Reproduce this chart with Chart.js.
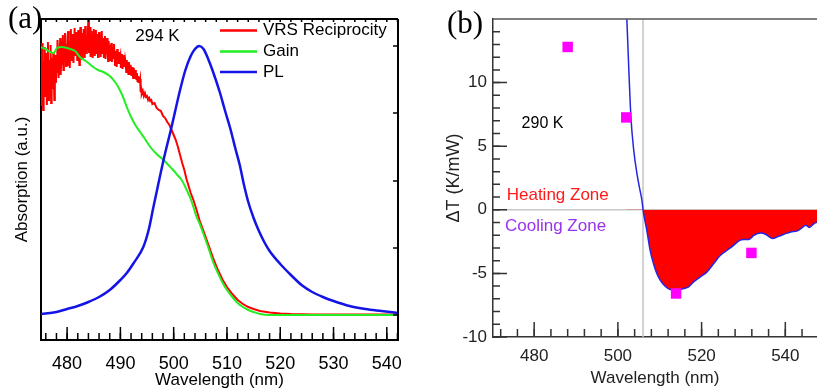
<!DOCTYPE html>
<html><head><meta charset="utf-8">
<script src="https://cdn.jsdelivr.net/npm/chart.js@4/dist/chart.umd.min.js"></script>
<style>
html,body{margin:0;padding:0;background:#fff;}
#pa{position:absolute;left:0;top:0;width:410px;height:389px;}
#pb{position:absolute;left:410px;top:0;width:407px;height:389px;}
</style></head><body>
<div id="pa"><canvas id="ca" width="410" height="389"></canvas></div>
<div id="pb"><canvas id="cb" width="407" height="389"></canvas></div>
<script>
// ---------- Panel (a) data ----------
const xTicksA = [480, 490, 500, 510, 520, 530, 540];
const yTicksA = [0, 67, 134, 202, 269];

const vrsWavelength = [
 475.0,475.1,475.2,475.3,475.4,475.5,475.6,475.7,475.8,475.9,
 476.0,476.1,476.2,476.3,476.4,476.5,476.6,476.7,476.8,476.9,
 477.0,477.1,477.2,477.3,477.4,477.5,477.6,477.7,477.8,477.9,
 478.0,478.1,478.2,478.3,478.4,478.5,478.6,478.7,478.8,478.9,
 479.0,479.1,479.2,479.3,479.4,479.5,479.6,479.7,479.8,479.9,
 480.0,480.1,480.2,480.3,480.4,480.5,480.6,480.7,480.8,480.9,
 481.0,481.1,481.2,481.3,481.4,481.5,481.6,481.7,481.8,481.9,
 482.0,482.1,482.2,482.3,482.4,482.5,482.6,482.7,482.8,482.9,
 483.0,483.1,483.2,483.3,483.4,483.5,483.6,483.7,483.8,483.9,
 484.0,484.1,484.2,484.3,484.4,484.5,484.6,484.7,484.8,484.9,
 485.0,485.1,485.2,485.3,485.4,485.5,485.6,485.7,485.8,485.9,
 486.0,486.1,486.2,486.3,486.4,486.5,486.6,486.7,486.8,486.9,
 487.0,487.1,487.2,487.3,487.4,487.5,487.6,487.7,487.8,487.9,
 488.0,488.1,488.2,488.3,488.4,488.5,488.6,488.7,488.8,488.9,
 489.0,489.1,489.2,489.3,489.4,489.5,489.6,489.7,489.8,489.9,
 490.0,490.1,490.2,490.3,490.4,490.5,490.6,490.7,490.8,490.9,
 491.0,491.1,491.2,491.3,491.4,491.5,491.6,491.7,491.8,491.9,
 492.0,492.1,492.2,492.3,492.4,492.5,492.6,492.7,492.8,492.9,
 493.0,493.1,493.2,493.3,493.4,493.5,493.6,493.7,493.8,493.9,
 494.0,494.2,494.4,494.6,494.8,495.0,495.2,495.4,495.6,495.8,
 496.0,496.4,496.8,497.2,497.6,498.0,498.4,498.8,499.2,499.6,
 500.0,500.4,500.8,501.2,501.6,502.0,502.4,502.8,503.2,503.7,
 504.3,504.9,505.6,506.4,507.4,508.3,509.2,510.0,511.0,512.0,
 513.0,514.0,515.0,516.2,518.0,520.0,522.0,526.0,530.0,536.0,
 542.1];
const vrsReciprocity = [
 262,210,247,272,230,205,254,243,268,219,
 231,262,210,248,273,224,214,255,238,270,
 212,246,257,226,262,237,215,251,260,232,
 257,242,275,262,237,266,251,277,240,255,
 274,251,280,245,266,258,282,268,249,271,
 250,279,284,260,274,247,269,286,255,266,
 281,262,252,276,287,268,259,283,274,255,
 270,285,261,250,278,288,266,273,256,282,
 263,286,276,257,289,270,262,280,266,285,
 296,262,279,288,258,273,284,266,257,280,
 286,268,259,277,285,262,274,281,258,270,
 283,264,275,258,279,284,262,270,277,257,
 272,279,256,268,261,277,265,254,274,263,
 270,255,265,272,253,262,268,257,271,259,
 250,264,260,248,266,255,261,251,263,256,
 259,247,256,261,246,254,250,260,248,255,
 251,243,255,246,249,241,253,247,240,250,
 246,239,248,242,237,247,243,236,245,240,
 236,242,234,239,232,238,233,236,223,226,
 221,224,219,222,218,219,215,217,214,215,
 211,212,207,205,204,199,197,193,190,185,
 180,175,168,160,152,145,136,129,122,115,
 105,94,84,72,57,45,35,28,21,15,
 11,8,6,4,2.5,1.5,1,0.5,0.5,0.5,
 0.5];

const gainWavelength = [
 474.9,476.0,476.8,477.5,478.1,479.0,480.0,480.6,481.5,482.4,
 483.5,484.9,485.8,486.8,488.0,489.0,489.8,490.5,491.2,492.0,
 492.8,493.7,494.5,495.6,496.8,498.1,499.0,499.9,500.7,501.5,
 502.1,502.7,503.2,503.7,504.3,504.9,505.6,506.4,507.4,508.3,
 509.2,510.0,511.0,512.0,513.0,514.0,515.0,516.2,518.0,525.0,
 535.0,542.1];
const gainValue = [
 268,266,263,262,267,268,267,266,264,258,
 254,248,245,243,239,233,226,218,208,198,
 190,183,177,168,161,155,150,145,140,135,
 129,122,116,108,98,91,81,69,53,42,
 32,25,18,12,8,5,3,1,0,0,
 0,0];

const plWavelength = [
 475.0,478.0,480.0,482.0,484.0,486.0,488.0,490.0,491.2,492.5,
 494.3,495.3,496.2,497.0,498.1,499.6,501.2,502.2,503.2,504.0,
 504.8,505.6,506.4,507.4,508.7,509.6,510.6,511.6,512.4,513.2,
 514.0,515.0,516.0,517.0,518.0,520.0,522.0,524.0,526.0,528.0,
 530.0,533.0,536.0,539.0,542.1];
const plValue = [
 1,3,6,9,13,18,25,35,42,52,
 68,85,108,128,155,188,225,245,259,266,
 269,266,257,243,222,205,187,166,150,130,
 113,97,84,73,64,51,40,30,23,18,
 14,9,6,4,2];

// ---------- Panel (b) data ----------
const xTicksB = [480, 500, 520, 540];
const yTicksB = [-10, -5, 0, 5, 10];
const dtWavelength = [
 502.0,502.15,502.58,503.11,503.78,504.61,505.3,505.74,506.0,506.2,
 506.9,507.7,508.5,509.3,510.1,511.3,512.5,514.1,515.7,516.9,
 518.1,519.7,521.3,522.9,524.5,526.1,527.7,528.9,530.1,531.3,
 532.5,534.1,535.3,536.9,538.1,539.7,541.3,542.9,544.1,544.9,
 545.7,546.9,547.8];
const dtValue = [
 16.2,14.91,11.29,7.30,4.69,2.72,1.5,0.75,0.05,-0.4,
 -1.60,-3.18,-4.22,-5.01,-5.53,-6.01,-6.27,-6.32,-6.19,-6.06,
 -5.67,-5.28,-4.88,-4.22,-3.57,-3.18,-2.78,-2.44,-2.33,-2.33,
 -2.00,-1.82,-1.92,-2.26,-2.13,-1.92,-1.74,-1.66,-1.39,-1.21,
 -1.39,-1.08,-0.95];
const measWavelength = [488.0, 502.0, 513.9, 531.9];
const measValue = [12.8, 7.26, -6.58, -3.39];
const zeroCrossing = 506.0;

// ---------- helpers ----------
const SANS = '"Liberation Sans", Arial, Helvetica, sans-serif';
const SERIF = '"Liberation Serif", "Times New Roman", serif';
const toXY = (xs, ys) => xs.map((x, i) => ({x: x, y: ys[i]}));
const range = (a, b, s) => { const r = []; for (let v = a; v <= b + 1e-9; v += s) r.push(+v.toFixed(6)); return r; };
const noPad = s => { s.paddingLeft = 0; s.paddingRight = 0; s.paddingTop = 0; s.paddingBottom = 0; };

const decor = {
  id: 'decor',
  beforeDatasetsDraw(chart, args, o) {
    const ctx = chart.ctx, ca = chart.chartArea;
    (o.refLines || []).forEach(r => {
      ctx.save(); ctx.strokeStyle = r.color; ctx.lineWidth = r.width; ctx.beginPath();
      if (r.axis === 'x') { const p = chart.scales.x.getPixelForValue(r.value); ctx.moveTo(p, ca.top); ctx.lineTo(p, ca.bottom); }
      else { const p = chart.scales.y.getPixelForValue(r.value); ctx.moveTo(ca.left, p); ctx.lineTo(ca.right, p); }
      ctx.stroke(); ctx.restore();
    });
  },
  afterDraw(chart, args, o) {
    const ctx = chart.ctx, ca = chart.chartArea;
    ctx.save();
    (o.frame || []).forEach(f => {
      ctx.strokeStyle = f.color; ctx.lineWidth = f.width; ctx.beginPath();
      if (f.side === 'top') { ctx.moveTo(ca.left, ca.top); ctx.lineTo(ca.right, ca.top); }
      if (f.side === 'right') { ctx.moveTo(ca.right, ca.top); ctx.lineTo(ca.right, ca.bottom); }
      ctx.stroke();
    });
    (o.ticks || []).forEach(t => {
      const sc = chart.scales[t.axis];
      ctx.strokeStyle = t.color; ctx.lineWidth = t.width; ctx.beginPath();
      t.values.forEach(v => {
        const p = sc.getPixelForValue(v);
        if (t.side === 'bottom') { ctx.moveTo(p, ca.bottom); ctx.lineTo(p, ca.bottom - t.len); }
        else if (t.side === 'top') { ctx.moveTo(p, ca.top); ctx.lineTo(p, ca.top + t.len); }
        else if (t.side === 'left') { ctx.moveTo(ca.left, p); ctx.lineTo(ca.left + t.len, p); }
        else { ctx.moveTo(ca.right, p); ctx.lineTo(ca.right - t.len, p); }
      });
      ctx.stroke();
    });
    if (o.legend) {
      const L = o.legend;
      chart.data.datasets.forEach((ds, i) => {
        const y = L.y[i];
        ctx.strokeStyle = ds.borderColor; ctx.lineWidth = L.lineWidth;
        ctx.beginPath(); ctx.moveTo(L.x0, y); ctx.lineTo(L.x1, y); ctx.stroke();
        ctx.fillStyle = '#000'; ctx.font = L.font; ctx.textAlign = 'left'; ctx.textBaseline = 'middle';
        ctx.fillText(ds.label, L.tx, y);
      });
    }
    (o.texts || []).forEach(t => {
      ctx.fillStyle = t.color || '#000'; ctx.font = t.font;
      ctx.textAlign = t.align || 'left'; ctx.textBaseline = 'middle';
      ctx.fillText(t.text, t.x, t.y);
    });
    ctx.restore();
  }
};

// ---------- Chart (a) ----------
new Chart(document.getElementById('ca'), {
  type: 'line',
  data: { datasets: [
    {label: 'VRS Reciprocity', data: toXY(vrsWavelength, vrsReciprocity), borderColor: '#ff0000', borderWidth: 2, pointRadius: 0, tension: 0, order: 3, clip: 0},
    {label: 'Gain', data: toXY(gainWavelength, gainValue), borderColor: '#22ee22', borderWidth: 2, pointRadius: 0, cubicInterpolationMode: 'monotone', order: 2, clip: 0},
    {label: 'PL', data: toXY(plWavelength, plValue), borderColor: '#1414e6', borderWidth: 2.5, pointRadius: 0, cubicInterpolationMode: 'monotone', order: 1, clip: 0}
  ]},
  options: {
    responsive: false, animation: false, devicePixelRatio: 1,
    layout: {autoPadding: false, padding: {left: 0, right: 12, top: 19, bottom: 0}},
    plugins: {
      legend: {display: false}, tooltip: {enabled: false},
      decor: {
        frame: [{side: 'top', color: '#000', width: 2}, {side: 'right', color: '#000', width: 2}],
        ticks: [
          {axis: 'x', side: 'bottom', values: range(476, 542, 2), len: 7, color: '#000', width: 1.5},
          {axis: 'x', side: 'bottom', values: xTicksA, len: 13, color: '#000', width: 1.5},
          {axis: 'x', side: 'top', values: range(476, 542, 2), len: 3, color: '#000', width: 1.5},
          {axis: 'y', side: 'right', values: yTicksA, len: 5, color: '#000', width: 1.5}
        ],
        legend: {x0: 220, x1: 257, tx: 263, y: [30.5, 51.5, 72], lineWidth: 2.5, font: '17px ' + SANS},
        texts: [
          {text: '(a)', x: 8, y: 20, font: '31px ' + SERIF},
          {text: '294 K', x: 157.5, y: 36, align: 'center', font: '17px ' + SANS}
        ]
      }
    },
    scales: {
      x: {type: 'linear', position: 'bottom', min: 475.1, max: 542.1,
        afterBuildTicks: s => { s.ticks = xTicksA.map(v => ({value: v})); },
        afterFit: s => { s.height = 49; noPad(s); },
        grid: {display: false, drawTicks: false},
        border: {display: true, color: '#000', width: 2},
        ticks: {color: '#000', font: {family: SANS, size: 18}, padding: 13, maxRotation: 0, autoSkip: false, callback: v => String(v)},
        title: {display: true, text: 'Wavelength (nm)', color: '#000', font: {family: SANS, size: 17, lineHeight: 1}, padding: {top: 0, bottom: 0.5}}},
      y: {type: 'linear', position: 'left', min: -25, max: 296,
        afterFit: s => { s.width = 41; noPad(s); },
        grid: {display: false, drawTicks: false},
        border: {display: true, color: '#000', width: 2},
        ticks: {display: false},
        title: {display: true, text: 'Absorption (a.u.)', color: '#000', font: {family: SANS, size: 17, lineHeight: 1}, padding: {top: 14, bottom: 0}}}
    }
  },
  plugins: [decor]
});

// ---------- Chart (b) ----------
new Chart(document.getElementById('cb'), {
  type: 'line',
  data: { datasets: [
    {type: 'line', label: 'ΔT', data: toXY(dtWavelength, dtValue), borderColor: '#2626e0', borderWidth: 1.5, pointRadius: 0,
     cubicInterpolationMode: 'monotone', fill: {target: {value: 0}, above: 'rgba(0,0,0,0)', below: '#ff0000'}, clip: 0, order: 2},
    {type: 'scatter', label: 'Measured', data: toXY(measWavelength, measValue), pointStyle: 'rect', pointRadius: 7.4,
     backgroundColor: '#ff00ff', borderColor: '#ff00ff', borderWidth: 0, order: 1}
  ]},
  options: {
    responsive: false, animation: false, devicePixelRatio: 1,
    layout: {autoPadding: false, padding: {left: 0, right: 0, top: 19, bottom: 0}},
    plugins: {
      legend: {display: false}, tooltip: {enabled: false},
      decor: {
        refLines: [{axis: 'x', value: zeroCrossing, color: '#c4c4c4', width: 1.5}, {axis: 'y', value: 0, color: '#c8c8c8', width: 1.5}],
        frame: [{side: 'top', color: '#555', width: 1.5}],
        ticks: [
          {axis: 'y', side: 'left', values: range(-10, 14, 1), len: 7, color: '#333', width: 1.5},
          {axis: 'y', side: 'left', values: yTicksB, len: 14, color: '#333', width: 1.5},
          {axis: 'x', side: 'bottom', values: range(472, 544, 4), len: 8, color: '#333', width: 1.5},
          {axis: 'x', side: 'bottom', values: xTicksB, len: 15, color: '#333', width: 1.5}
        ],
        texts: [
          {text: '(b)', x: 37, y: 25, font: '31px ' + SERIF},
          {text: '290 K', x: 132.5, y: 124, align: 'center', font: '16px ' + SANS},
          {text: 'Heating Zone', x: 96.7, y: 195, color: '#ff1a1a', font: '17px ' + SANS},
          {text: 'Cooling Zone', x: 95, y: 226.5, color: '#9933ee', font: '17px ' + SANS}
        ]
      }
    },
    scales: {
      x: {type: 'linear', position: 'bottom', min: 470.16, max: 547.57,
        afterBuildTicks: s => { s.ticks = xTicksB.map(v => ({value: v})); },
        afterFit: s => { s.height = 52; noPad(s); },
        grid: {display: false, drawTicks: false},
        border: {display: true, color: '#333', width: 1.5},
        ticks: {color: '#222', font: {family: SANS, size: 17}, padding: 9, maxRotation: 0, autoSkip: false, callback: v => String(v)},
        title: {display: true, text: 'Wavelength (nm)', color: '#222', font: {family: SANS, size: 17, lineHeight: 1}, padding: {top: 0, bottom: 2.5}}},
      y: {type: 'linear', position: 'left', min: -10, max: 15,
        afterBuildTicks: s => { s.ticks = yTicksB.map(v => ({value: v})); },
        afterFit: s => { s.width = 83; noPad(s); },
        grid: {display: false, drawTicks: false},
        border: {display: true, color: '#333', width: 1.5},
        ticks: {color: '#222', font: {family: SANS, size: 17}, padding: 6, autoSkip: false, callback: v => String(v)},
        title: {display: true, text: 'ΔT (K/mW)', color: '#222', font: {family: SANS, size: 18, lineHeight: 1}, padding: {top: 35.5, bottom: 0}}}
    }
  },
  plugins: [decor]
});
</script></body></html>
